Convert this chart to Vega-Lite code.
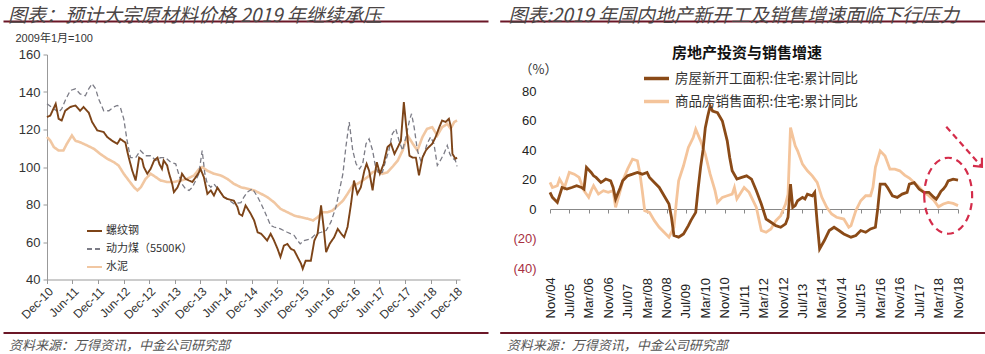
{
"$schema": "https://vega.github.io/schema/vega-lite/v6.json",
"background": "#ffffff",
"padding": {"left": 2, "top": 6, "right": 0, "bottom": 0},
"spacing": -33,
"resolve": {"scale": {"x": "independent", "y": "independent", "color": "independent", "strokeDash": "independent"}, "axis": {"x": "independent", "y": "independent"}, "legend": {"color": "independent", "strokeDash": "independent"}},
"datasets": {
"materials": [
{"series":"螺纹钢","date":"2010-12-01","value":126.6},{"series":"螺纹钢","date":"2010-12-25","value":127.5},{"series":"螺纹钢","date":"2011-02-01","value":133.7},{"series":"螺纹钢","date":"2011-02-22","value":125.7},{"series":"螺纹钢","date":"2011-03-16","value":124.8},{"series":"螺纹钢","date":"2011-04-10","value":130},{"series":"螺纹钢","date":"2011-05-16","value":132},{"series":"螺纹钢","date":"2011-06-22","value":132.8},{"series":"螺纹钢","date":"2011-07-25","value":130},{"series":"螺纹钢","date":"2011-08-19","value":132},{"series":"螺纹钢","date":"2011-09-25","value":129},{"series":"螺纹钢","date":"2011-10-19","value":124},{"series":"螺纹钢","date":"2011-11-25","value":119.5},{"series":"螺纹钢","date":"2012-01-10","value":118.6},{"series":"螺纹钢","date":"2012-02-04","value":116},{"series":"螺纹钢","date":"2012-03-10","value":114},{"series":"螺纹钢","date":"2012-04-16","value":112.4},{"series":"螺纹钢","date":"2012-05-07","value":115},{"series":"螺纹钢","date":"2012-06-13","value":113},{"series":"螺纹钢","date":"2012-06-25","value":108.8},{"series":"螺纹钢","date":"2012-07-07","value":105},{"series":"螺纹钢","date":"2012-08-01","value":98},{"series":"螺纹钢","date":"2012-08-25","value":92.8},{"series":"螺纹钢","date":"2012-09-19","value":105},{"series":"螺纹钢","date":"2012-10-10","value":104},{"series":"螺纹钢","date":"2012-10-22","value":100},{"series":"螺纹钢","date":"2012-11-16","value":96.4},{"series":"螺纹钢","date":"2012-12-10","value":99},{"series":"螺纹钢","date":"2013-01-04","value":103.5},{"series":"螺纹钢","date":"2013-01-28","value":105},{"series":"螺纹钢","date":"2013-02-10","value":101.7},{"series":"螺纹钢","date":"2013-03-01","value":99},{"series":"螺纹钢","date":"2013-03-13","value":103.5},{"series":"螺纹钢","date":"2013-04-07","value":100.8},{"series":"螺纹钢","date":"2013-04-19","value":97},{"series":"螺纹钢","date":"2013-05-13","value":91},{"series":"螺纹钢","date":"2013-05-25","value":86.6},{"series":"螺纹钢","date":"2013-06-19","value":89},{"series":"螺纹钢","date":"2013-07-10","value":92.8},{"series":"螺纹钢","date":"2013-07-22","value":96.4},{"series":"螺纹钢","date":"2013-08-16","value":93.7},{"series":"螺纹钢","date":"2013-09-10","value":92.8},{"series":"螺纹钢","date":"2013-10-04","value":92},{"series":"螺纹钢","date":"2013-10-28","value":94.6},{"series":"螺纹钢","date":"2013-11-19","value":97},{"series":"螺纹钢","date":"2013-12-01","value":99},{"series":"螺纹钢","date":"2013-12-25","value":94.6},{"series":"螺纹钢","date":"2014-01-19","value":85.7},{"series":"螺纹钢","date":"2014-02-13","value":87.5},{"series":"螺纹钢","date":"2014-03-07","value":84.8},{"series":"螺纹钢","date":"2014-04-01","value":89},{"series":"螺纹钢","date":"2014-04-22","value":86.6},{"series":"螺纹钢","date":"2014-05-16","value":84},{"series":"螺纹钢","date":"2014-06-10","value":83},{"series":"螺纹钢","date":"2014-07-04","value":82.5},{"series":"螺纹钢","date":"2014-07-28","value":82},{"series":"螺纹钢","date":"2014-08-22","value":78.6},{"series":"螺纹钢","date":"2014-09-04","value":75},{"series":"螺纹钢","date":"2014-09-25","value":74},{"series":"螺纹钢","date":"2014-10-19","value":79.5},{"series":"螺纹钢","date":"2014-11-25","value":75},{"series":"螺纹钢","date":"2014-12-19","value":71.5},{"series":"螺纹钢","date":"2015-01-13","value":65.2},{"series":"螺纹钢","date":"2015-02-07","value":64.4},{"series":"螺纹钢","date":"2015-03-01","value":62.6},{"series":"螺纹钢","date":"2015-03-22","value":60.8},{"series":"螺纹钢","date":"2015-04-16","value":64.4},{"series":"螺纹钢","date":"2015-05-10","value":60.8},{"series":"螺纹钢","date":"2015-06-04","value":56.4},{"series":"螺纹钢","date":"2015-06-25","value":52},{"series":"螺纹钢","date":"2015-07-19","value":58},{"series":"螺纹钢","date":"2015-08-13","value":59},{"series":"螺纹钢","date":"2015-09-07","value":56.4},{"series":"螺纹钢","date":"2015-10-01","value":55.5},{"series":"螺纹钢","date":"2015-10-25","value":52},{"series":"螺纹钢","date":"2015-11-19","value":48.4},{"series":"螺纹钢","date":"2015-12-01","value":45.7},{"series":"螺纹钢","date":"2015-12-22","value":50},{"series":"螺纹钢","date":"2016-01-28","value":50},{"series":"螺纹钢","date":"2016-02-22","value":60.8},{"series":"螺纹钢","date":"2016-03-16","value":64.4},{"series":"螺纹钢","date":"2016-04-10","value":79.5},{"series":"螺纹钢","date":"2016-04-28","value":68},{"series":"螺纹钢","date":"2016-05-16","value":54.6},{"series":"螺纹钢","date":"2016-06-10","value":59},{"series":"螺纹钢","date":"2016-07-13","value":62.6},{"series":"螺纹钢","date":"2016-08-07","value":67},{"series":"螺纹钢","date":"2016-09-01","value":64.4},{"series":"螺纹钢","date":"2016-09-22","value":62.6},{"series":"螺纹钢","date":"2016-10-16","value":68},{"series":"螺纹钢","date":"2016-11-10","value":80.4},{"series":"螺纹钢","date":"2016-12-01","value":92.8},{"series":"螺纹钢","date":"2016-12-25","value":85.7},{"series":"螺纹钢","date":"2017-01-19","value":89.2},{"series":"螺纹钢","date":"2017-02-13","value":98},{"series":"螺纹钢","date":"2017-03-01","value":101.7},{"series":"螺纹钢","date":"2017-03-19","value":98},{"series":"螺纹钢","date":"2017-04-13","value":87.5},{"series":"螺纹钢","date":"2017-04-22","value":92.8},{"series":"螺纹钢","date":"2017-05-13","value":102.6},{"series":"螺纹钢","date":"2017-06-04","value":96.4},{"series":"螺纹钢","date":"2017-07-01","value":101.7},{"series":"螺纹钢","date":"2017-07-28","value":110.6},{"series":"螺纹钢","date":"2017-08-22","value":112.4},{"series":"螺纹钢","date":"2017-09-16","value":107},{"series":"螺纹钢","date":"2017-10-10","value":110.6},{"series":"螺纹钢","date":"2017-11-01","value":114},{"series":"螺纹钢","date":"2017-11-22","value":134.6},{"series":"螺纹钢","date":"2017-12-07","value":123},{"series":"螺纹钢","date":"2018-01-01","value":106},{"series":"螺纹钢","date":"2018-01-25","value":105},{"series":"螺纹钢","date":"2018-02-16","value":105},{"series":"螺纹钢","date":"2018-03-10","value":95.5},{"series":"螺纹钢","date":"2018-04-04","value":105},{"series":"螺纹钢","date":"2018-04-28","value":108.8},{"series":"螺纹钢","date":"2018-05-19","value":110.6},{"series":"螺纹钢","date":"2018-06-13","value":112.4},{"series":"螺纹钢","date":"2018-07-07","value":116},{"series":"螺纹钢","date":"2018-08-01","value":121},{"series":"螺纹钢","date":"2018-08-22","value":124.8},{"series":"螺纹钢","date":"2018-09-16","value":124},{"series":"螺纹钢","date":"2018-10-10","value":125.7},{"series":"螺纹钢","date":"2018-10-25","value":121},{"series":"螺纹钢","date":"2018-11-04","value":107},{"series":"螺纹钢","date":"2018-11-25","value":104.4},{"series":"螺纹钢","date":"2018-12-07","value":105},
{"series":"动力煤（5500K）","date":"2010-12-01","value":133.7},{"series":"动力煤（5500K）","date":"2011-01-19","value":131},{"series":"动力煤（5500K）","date":"2011-02-22","value":129.2},{"series":"动力煤（5500K）","date":"2011-03-16","value":131},{"series":"动力煤（5500K）","date":"2011-04-10","value":135.5},{"series":"动力煤（5500K）","date":"2011-05-16","value":140.8},{"series":"动力煤（5500K）","date":"2011-06-22","value":141.7},{"series":"动力煤（5500K）","date":"2011-07-25","value":139},{"series":"动力煤（5500K）","date":"2011-09-01","value":138},{"series":"动力煤（5500K）","date":"2011-09-25","value":141.7},{"series":"动力煤（5500K）","date":"2011-10-19","value":144.4},{"series":"动力煤（5500K）","date":"2011-11-13","value":141.7},{"series":"动力煤（5500K）","date":"2011-12-04","value":136.4},{"series":"动力煤（5500K）","date":"2012-01-10","value":130},{"series":"动力煤（5500K）","date":"2012-02-16","value":130},{"series":"动力煤（5500K）","date":"2012-03-22","value":132},{"series":"动力煤（5500K）","date":"2012-04-16","value":132.8},{"series":"动力煤（5500K）","date":"2012-05-07","value":132},{"series":"动力煤（5500K）","date":"2012-06-01","value":125.7},{"series":"动力煤（5500K）","date":"2012-06-25","value":114},{"series":"动力煤（5500K）","date":"2012-07-19","value":105},{"series":"动力煤（5500K）","date":"2012-08-25","value":105},{"series":"动力煤（5500K）","date":"2012-09-28","value":108.8},{"series":"动力煤（5500K）","date":"2012-11-04","value":106},{"series":"动力煤（5500K）","date":"2012-12-10","value":106},{"series":"动力煤（5500K）","date":"2013-01-16","value":103.5},{"series":"动力煤（5500K）","date":"2013-02-19","value":105},{"series":"动力煤（5500K）","date":"2013-03-25","value":105},{"series":"动力煤（5500K）","date":"2013-05-01","value":102.6},{"series":"动力煤（5500K）","date":"2013-06-07","value":101.7},{"series":"动力煤（5500K）","date":"2013-07-01","value":95.5},{"series":"动力煤（5500K）","date":"2013-07-22","value":91},{"series":"动力煤（5500K）","date":"2013-08-16","value":88.4},{"series":"动力煤（5500K）","date":"2013-09-10","value":87.5},{"series":"动力煤（5500K）","date":"2013-10-04","value":89.2},{"series":"动力煤（5500K）","date":"2013-10-28","value":92.8},{"series":"动力煤（5500K）","date":"2013-11-19","value":96.4},{"series":"动力煤（5500K）","date":"2013-12-13","value":108.8},{"series":"动力煤（5500K）","date":"2014-01-01","value":96.4},{"series":"动力煤（5500K）","date":"2014-01-19","value":91},{"series":"动力煤（5500K）","date":"2014-02-13","value":89.2},{"series":"动力煤（5500K）","date":"2014-03-07","value":91},{"series":"动力煤（5500K）","date":"2014-04-13","value":87.5},{"series":"动力煤（5500K）","date":"2014-05-16","value":84},{"series":"动力煤（5500K）","date":"2014-06-10","value":83},{"series":"动力煤（5500K）","date":"2014-07-28","value":80.4},{"series":"动力煤（5500K）","date":"2014-09-16","value":81},{"series":"动力煤（5500K）","date":"2014-10-07","value":84},{"series":"动力煤（5500K）","date":"2014-11-01","value":86.6},{"series":"动力煤（5500K）","date":"2014-12-07","value":88.4},{"series":"动力煤（5500K）","date":"2015-01-13","value":84},{"series":"动力煤（5500K）","date":"2015-02-07","value":80.4},{"series":"动力煤（5500K）","date":"2015-03-01","value":76.8},{"series":"动力煤（5500K）","date":"2015-03-22","value":73.2},{"series":"动力煤（5500K）","date":"2015-04-16","value":68.8},{"series":"动力煤（5500K）","date":"2015-05-10","value":68},{"series":"动力煤（5500K）","date":"2015-06-25","value":67},{"series":"动力煤（5500K）","date":"2015-08-13","value":65.2},{"series":"动力煤（5500K）","date":"2015-10-01","value":63.5},{"series":"动力煤（5500K）","date":"2015-10-25","value":60.8},{"series":"动力煤（5500K）","date":"2015-11-13","value":59},{"series":"动力煤（5500K）","date":"2015-12-10","value":60.8},{"series":"动力煤（5500K）","date":"2016-01-28","value":61.7},{"series":"动力煤（5500K）","date":"2016-03-04","value":64.4},{"series":"动力煤（5500K）","date":"2016-04-10","value":65.2},{"series":"动力煤（5500K）","date":"2016-05-16","value":66.1},{"series":"动力煤（5500K）","date":"2016-06-19","value":70.6},{"series":"动力煤（5500K）","date":"2016-07-25","value":78.6},{"series":"动力煤（5500K）","date":"2016-08-19","value":87.5},{"series":"动力煤（5500K）","date":"2016-09-13","value":96.4},{"series":"动力煤（5500K）","date":"2016-10-04","value":110.6},{"series":"动力煤（5500K）","date":"2016-10-28","value":124},{"series":"动力煤（5500K）","date":"2016-11-22","value":108.8},{"series":"动力煤（5500K）","date":"2016-12-16","value":101.7},{"series":"动力煤（5500K）","date":"2017-01-10","value":99},{"series":"动力煤（5500K）","date":"2017-02-01","value":101.7},{"series":"动力煤（5500K）","date":"2017-02-25","value":112.4},{"series":"动力煤（5500K）","date":"2017-03-19","value":115},{"series":"动力煤（5500K）","date":"2017-04-13","value":108.8},{"series":"动力煤（5500K）","date":"2017-05-04","value":100},{"series":"动力煤（5500K）","date":"2017-05-28","value":96.4},{"series":"动力煤（5500K）","date":"2017-06-22","value":97.2},{"series":"动力煤（5500K）","date":"2017-07-16","value":103.5},{"series":"动力煤（5500K）","date":"2017-08-07","value":108.8},{"series":"动力煤（5500K）","date":"2017-09-01","value":117.7},{"series":"动力煤（5500K）","date":"2017-09-25","value":120.4},{"series":"动力煤（5500K）","date":"2017-10-19","value":114},{"series":"动力煤（5500K）","date":"2017-11-13","value":108.8},{"series":"动力煤（5500K）","date":"2017-12-07","value":116},{"series":"动力煤（5500K）","date":"2018-01-01","value":124.8},{"series":"动力煤（5500K）","date":"2018-01-16","value":128.4},{"series":"动力煤（5500K）","date":"2018-02-04","value":121},{"series":"动力煤（5500K）","date":"2018-02-27","value":108.8},{"series":"动力煤（5500K）","date":"2018-03-22","value":103.5},{"series":"动力煤（5500K）","date":"2018-04-16","value":107},{"series":"动力煤（5500K）","date":"2018-05-07","value":112.4},{"series":"动力煤（5500K）","date":"2018-06-01","value":116},{"series":"动力煤（5500K）","date":"2018-06-25","value":112.4},{"series":"动力煤（5500K）","date":"2018-07-19","value":100.8},{"series":"动力煤（5500K）","date":"2018-08-10","value":103.5},{"series":"动力煤（5500K）","date":"2018-09-04","value":107},{"series":"动力煤（5500K）","date":"2018-09-28","value":111.5},{"series":"动力煤（5500K）","date":"2018-10-16","value":107},{"series":"动力煤（5500K）","date":"2018-11-01","value":105},{"series":"动力煤（5500K）","date":"2018-11-25","value":103.5},{"series":"动力煤（5500K）","date":"2018-12-07","value":100.3},
{"series":"水泥","date":"2010-12-01","value":116},{"series":"水泥","date":"2010-12-25","value":114},{"series":"水泥","date":"2011-01-19","value":110.6},{"series":"水泥","date":"2011-02-22","value":108.8},{"series":"水泥","date":"2011-03-28","value":108.8},{"series":"水泥","date":"2011-04-22","value":112.4},{"series":"水泥","date":"2011-05-28","value":116.8},{"series":"水泥","date":"2011-06-22","value":114},{"series":"水泥","date":"2011-07-25","value":113.2},{"series":"水泥","date":"2011-09-13","value":111.5},{"series":"水泥","date":"2011-11-01","value":109.7},{"series":"水泥","date":"2011-12-16","value":107},{"series":"水泥","date":"2012-02-04","value":104.4},{"series":"水泥","date":"2012-03-22","value":102.6},{"series":"水泥","date":"2012-04-25","value":100.8},{"series":"水泥","date":"2012-06-01","value":96.4},{"series":"水泥","date":"2012-07-07","value":92.8},{"series":"水泥","date":"2012-08-13","value":89.2},{"series":"水泥","date":"2012-09-07","value":87.5},{"series":"水泥","date":"2012-10-01","value":89.2},{"series":"水泥","date":"2012-11-04","value":93.7},{"series":"水泥","date":"2012-12-10","value":96.4},{"series":"水泥","date":"2013-01-16","value":94.6},{"series":"水泥","date":"2013-02-19","value":92.8},{"series":"水泥","date":"2013-04-07","value":92},{"series":"水泥","date":"2013-05-25","value":92},{"series":"水泥","date":"2013-07-10","value":92.8},{"series":"水泥","date":"2013-08-28","value":93.7},{"series":"水泥","date":"2013-10-16","value":95.5},{"series":"水泥","date":"2013-11-22","value":99},{"series":"水泥","date":"2013-12-13","value":100},{"series":"水泥","date":"2014-01-19","value":98},{"series":"水泥","date":"2014-03-07","value":96.4},{"series":"水泥","date":"2014-04-25","value":95.5},{"series":"水泥","date":"2014-06-10","value":93.7},{"series":"水泥","date":"2014-07-28","value":91},{"series":"水泥","date":"2014-09-16","value":89.2},{"series":"水泥","date":"2014-11-01","value":88.4},{"series":"水泥","date":"2014-12-19","value":87.5},{"series":"水泥","date":"2015-02-07","value":85.7},{"series":"水泥","date":"2015-03-22","value":84},{"series":"水泥","date":"2015-05-10","value":81.2},{"series":"水泥","date":"2015-06-25","value":77.7},{"series":"水泥","date":"2015-08-13","value":75.9},{"series":"水泥","date":"2015-10-01","value":74.1},{"series":"水泥","date":"2015-11-19","value":73.2},{"series":"水泥","date":"2016-01-07","value":72.4},{"series":"水泥","date":"2016-02-13","value":71.5},{"series":"水泥","date":"2016-03-16","value":73.2},{"series":"水泥","date":"2016-04-22","value":75.9},{"series":"水泥","date":"2016-05-28","value":75.9},{"series":"水泥","date":"2016-07-01","value":76.8},{"series":"水泥","date":"2016-08-07","value":79.5},{"series":"水泥","date":"2016-09-13","value":82},{"series":"水泥","date":"2016-10-16","value":85.7},{"series":"水泥","date":"2016-11-22","value":90.1},{"series":"水泥","date":"2016-12-25","value":91},{"series":"水泥","date":"2017-02-01","value":92.8},{"series":"水泥","date":"2017-03-07","value":94.6},{"series":"水泥","date":"2017-04-13","value":97.2},{"series":"水泥","date":"2017-05-16","value":98},{"series":"水泥","date":"2017-06-22","value":96.4},{"series":"水泥","date":"2017-07-28","value":97.2},{"series":"水泥","date":"2017-09-01","value":100},{"series":"水泥","date":"2017-10-10","value":103.5},{"series":"水泥","date":"2017-11-13","value":108.8},{"series":"水泥","date":"2017-12-19","value":116.8},{"series":"水泥","date":"2018-01-25","value":112.4},{"series":"水泥","date":"2018-02-27","value":108.8},{"series":"水泥","date":"2018-04-04","value":116},{"series":"水泥","date":"2018-05-07","value":120.4},{"series":"水泥","date":"2018-06-13","value":121.2},{"series":"水泥","date":"2018-07-19","value":116.8},{"series":"水泥","date":"2018-08-22","value":121.2},{"series":"水泥","date":"2018-09-28","value":123},{"series":"水泥","date":"2018-10-22","value":120.4},{"series":"水泥","date":"2018-11-16","value":123.9},{"series":"水泥","date":"2018-12-07","value":124.8}
],
"property": [
{"series":"房屋新开工面积:住宅:累计同比","date":"2004-11-01","value":11.3},{"series":"房屋新开工面积:住宅:累计同比","date":"2004-12-01","value":7.9},{"series":"房屋新开工面积:住宅:累计同比","date":"2005-02-01","value":4.5},{"series":"房屋新开工面积:住宅:累计同比","date":"2005-04-01","value":14.6},{"series":"房屋新开工面积:住宅:累计同比","date":"2005-06-01","value":13.5},{"series":"房屋新开工面积:住宅:累计同比","date":"2005-08-01","value":14.6},{"series":"房屋新开工面积:住宅:累计同比","date":"2005-10-01","value":15.8},{"series":"房屋新开工面积:住宅:累计同比","date":"2005-12-01","value":14.6},{"series":"房屋新开工面积:住宅:累计同比","date":"2006-01-01","value":13.5},{"series":"房屋新开工面积:住宅:累计同比","date":"2006-02-01","value":28.2},{"series":"房屋新开工面积:住宅:累计同比","date":"2006-04-01","value":24.8},{"series":"房屋新开工面积:住宅:累计同比","date":"2006-05-01","value":22.5},{"series":"房屋新开工面积:住宅:累计同比","date":"2006-06-01","value":21.4},{"series":"房屋新开工面积:住宅:累计同比","date":"2006-08-01","value":18},{"series":"房屋新开工面积:住宅:累计同比","date":"2006-09-01","value":19.1},{"series":"房屋新开工面积:住宅:累计同比","date":"2006-10-01","value":20.3},{"series":"房屋新开工面积:住宅:累计同比","date":"2006-12-01","value":19.1},{"series":"房屋新开工面积:住宅:累计同比","date":"2007-01-01","value":14.6},{"series":"房屋新开工面积:住宅:累计同比","date":"2007-02-01","value":6.8},{"series":"房屋新开工面积:住宅:累计同比","date":"2007-04-01","value":14.6},{"series":"房屋新开工面积:住宅:累计同比","date":"2007-05-01","value":19.1},{"series":"房屋新开工面积:住宅:累计同比","date":"2007-07-01","value":22.5},{"series":"房屋新开工面积:住宅:累计同比","date":"2007-09-01","value":23.6},{"series":"房屋新开工面积:住宅:累计同比","date":"2007-11-01","value":24.8},{"series":"房屋新开工面积:住宅:累计同比","date":"2008-01-01","value":23.6},{"series":"房屋新开工面积:住宅:累计同比","date":"2008-03-01","value":24.8},{"series":"房屋新开工面积:住宅:累计同比","date":"2008-04-01","value":21.4},{"series":"房屋新开工面积:住宅:累计同比","date":"2008-06-01","value":18},{"series":"房屋新开工面积:住宅:累计同比","date":"2008-08-01","value":14.6},{"series":"房屋新开工面积:住宅:累计同比","date":"2008-10-01","value":9},{"series":"房屋新开工面积:住宅:累计同比","date":"2008-12-01","value":3.4},{"series":"房屋新开工面积:住宅:累计同比","date":"2009-01-01","value":-5.6},{"series":"房屋新开工面积:住宅:累计同比","date":"2009-02-01","value":-18},{"series":"房屋新开工面积:住宅:累计同比","date":"2009-04-01","value":-19.1},{"series":"房屋新开工面积:住宅:累计同比","date":"2009-06-01","value":-16.9},{"series":"房屋新开工面积:住宅:累计同比","date":"2009-08-01","value":-11.3},{"series":"房屋新开工面积:住宅:累计同比","date":"2009-09-01","value":-7.9},{"series":"房屋新开工面积:住宅:累计同比","date":"2009-11-01","value":-2.3},{"series":"房屋新开工面积:住宅:累计同比","date":"2009-12-01","value":13.5},{"series":"房屋新开工面积:住宅:累计同比","date":"2010-01-01","value":28.2},{"series":"房屋新开工面积:住宅:累计同比","date":"2010-02-01","value":40},{"series":"房屋新开工面积:住宅:累计同比","date":"2010-03-01","value":55},{"series":"房屋新开工面积:住宅:累计同比","date":"2010-04-01","value":63},{"series":"房屋新开工面积:住宅:累计同比","date":"2010-05-01","value":69.8},{"series":"房屋新开工面积:住宅:累计同比","date":"2010-06-01","value":66.4},{"series":"房屋新开工面积:住宅:累计同比","date":"2010-08-01","value":65.3},{"series":"房屋新开工面积:住宅:累计同比","date":"2010-10-01","value":59.7},{"series":"房屋新开工面积:住宅:累计同比","date":"2010-12-01","value":46.2},{"series":"房屋新开工面积:住宅:累计同比","date":"2011-01-01","value":34.9},{"series":"房屋新开工面积:住宅:累计同比","date":"2011-02-01","value":25.9},{"series":"房屋新开工面积:住宅:累计同比","date":"2011-04-01","value":20.3},{"series":"房屋新开工面积:住宅:累计同比","date":"2011-06-01","value":21.4},{"series":"房屋新开工面积:住宅:累计同比","date":"2011-08-01","value":22.5},{"series":"房屋新开工面积:住宅:累计同比","date":"2011-10-01","value":20.3},{"series":"房屋新开工面积:住宅:累计同比","date":"2011-12-01","value":12.4},{"series":"房屋新开工面积:住宅:累计同比","date":"2012-02-01","value":3.4},{"series":"房屋新开工面积:住宅:累计同比","date":"2012-04-01","value":-6.8},{"series":"房屋新开工面积:住宅:累计同比","date":"2012-06-01","value":-9},{"series":"房屋新开工面积:住宅:累计同比","date":"2012-08-01","value":-11.3},{"series":"房屋新开工面积:住宅:累计同比","date":"2012-10-01","value":-12.4},{"series":"房屋新开工面积:住宅:累计同比","date":"2012-12-01","value":-10.1},{"series":"房屋新开工面积:住宅:累计同比","date":"2013-01-01","value":-5.6},{"series":"房屋新开工面积:住宅:累计同比","date":"2013-02-01","value":16.9},{"series":"房屋新开工面积:住宅:累计同比","date":"2013-03-01","value":1.1},{"series":"房屋新开工面积:住宅:累计同比","date":"2013-04-01","value":2.3},{"series":"房屋新开工面积:住宅:累计同比","date":"2013-05-01","value":5.6},{"series":"房屋新开工面积:住宅:累计同比","date":"2013-07-01","value":7.9},{"series":"房屋新开工面积:住宅:累计同比","date":"2013-08-01","value":6.8},{"series":"房屋新开工面积:住宅:累计同比","date":"2013-09-01","value":10.1},{"series":"房屋新开工面积:住宅:累计同比","date":"2013-11-01","value":9},{"series":"房屋新开工面积:住宅:累计同比","date":"2013-12-01","value":11.3},{"series":"房屋新开工面积:住宅:累计同比","date":"2014-01-01","value":-9},{"series":"房屋新开工面积:住宅:累计同比","date":"2014-02-01","value":-27},{"series":"房屋新开工面积:住宅:累计同比","date":"2014-04-01","value":-21.4},{"series":"房屋新开工面积:住宅:累计同比","date":"2014-06-01","value":-14.6},{"series":"房屋新开工面积:住宅:累计同比","date":"2014-08-01","value":-12.4},{"series":"房屋新开工面积:住宅:累计同比","date":"2014-10-01","value":-14.6},{"series":"房屋新开工面积:住宅:累计同比","date":"2014-12-01","value":-16.9},{"series":"房屋新开工面积:住宅:累计同比","date":"2015-03-01","value":-19.1},{"series":"房屋新开工面积:住宅:累计同比","date":"2015-05-01","value":-18},{"series":"房屋新开工面积:住宅:累计同比","date":"2015-07-01","value":-14.6},{"series":"房屋新开工面积:住宅:累计同比","date":"2015-09-01","value":-15.8},{"series":"房屋新开工面积:住宅:累计同比","date":"2015-11-01","value":-13.5},{"series":"房屋新开工面积:住宅:累计同比","date":"2016-01-01","value":-12.4},{"series":"房屋新开工面积:住宅:累计同比","date":"2016-02-01","value":1.1},{"series":"房屋新开工面积:住宅:累计同比","date":"2016-03-01","value":16.9},{"series":"房屋新开工面积:住宅:累计同比","date":"2016-05-01","value":16.9},{"series":"房屋新开工面积:住宅:累计同比","date":"2016-06-01","value":14.6},{"series":"房屋新开工面积:住宅:累计同比","date":"2016-08-01","value":9},{"series":"房屋新开工面积:住宅:累计同比","date":"2016-10-01","value":7.9},{"series":"房屋新开工面积:住宅:累计同比","date":"2016-12-01","value":10.1},{"series":"房屋新开工面积:住宅:累计同比","date":"2017-02-01","value":11.3},{"series":"房屋新开工面积:住宅:累计同比","date":"2017-03-01","value":16.9},{"series":"房屋新开工面积:住宅:累计同比","date":"2017-05-01","value":17.9},{"series":"房屋新开工面积:住宅:累计同比","date":"2017-07-01","value":13.5},{"series":"房屋新开工面积:住宅:累计同比","date":"2017-09-01","value":11.3},{"series":"房屋新开工面积:住宅:累计同比","date":"2017-11-01","value":11.3},{"series":"房屋新开工面积:住宅:累计同比","date":"2018-01-01","value":8},{"series":"房屋新开工面积:住宅:累计同比","date":"2018-02-01","value":6.7},{"series":"房屋新开工面积:住宅:累计同比","date":"2018-03-01","value":9},{"series":"房屋新开工面积:住宅:累计同比","date":"2018-04-01","value":12},{"series":"房屋新开工面积:住宅:累计同比","date":"2018-05-01","value":13.5},{"series":"房屋新开工面积:住宅:累计同比","date":"2018-06-01","value":15.7},{"series":"房屋新开工面积:住宅:累计同比","date":"2018-07-01","value":19.1},{"series":"房屋新开工面积:住宅:累计同比","date":"2018-09-01","value":20.2},{"series":"房屋新开工面积:住宅:累计同比","date":"2018-11-01","value":19.6},
{"series":"商品房销售面积:住宅:累计同比","date":"2004-11-01","value":18},{"series":"商品房销售面积:住宅:累计同比","date":"2004-12-01","value":14.6},{"series":"商品房销售面积:住宅:累计同比","date":"2005-02-01","value":15.8},{"series":"商品房销售面积:住宅:累计同比","date":"2005-03-01","value":20.3},{"series":"商品房销售面积:住宅:累计同比","date":"2005-05-01","value":14.6},{"series":"商品房销售面积:住宅:累计同比","date":"2005-07-01","value":24.8},{"series":"商品房销售面积:住宅:累计同比","date":"2005-09-01","value":23.6},{"series":"商品房销售面积:住宅:累计同比","date":"2005-11-01","value":21.4},{"series":"商品房销售面积:住宅:累计同比","date":"2006-01-01","value":12.4},{"series":"商品房销售面积:住宅:累计同比","date":"2006-03-01","value":7.9},{"series":"商品房销售面积:住宅:累计同比","date":"2006-04-01","value":12.4},{"series":"商品房销售面积:住宅:累计同比","date":"2006-05-01","value":15.8},{"series":"商品房销售面积:住宅:累计同比","date":"2006-07-01","value":10.1},{"series":"商品房销售面积:住宅:累计同比","date":"2006-09-01","value":12.4},{"series":"商品房销售面积:住宅:累计同比","date":"2006-11-01","value":11.3},{"series":"商品房销售面积:住宅:累计同比","date":"2007-01-01","value":12.4},{"series":"商品房销售面积:住宅:累计同比","date":"2007-02-01","value":1.1},{"series":"商品房销售面积:住宅:累计同比","date":"2007-04-01","value":12.4},{"series":"商品房销售面积:住宅:累计同比","date":"2007-05-01","value":19.1},{"series":"商品房销售面积:住宅:累计同比","date":"2007-07-01","value":27},{"series":"商品房销售面积:住宅:累计同比","date":"2007-09-01","value":33.8},{"series":"商品房销售面积:住宅:累计同比","date":"2007-11-01","value":32.7},{"series":"商品房销售面积:住宅:累计同比","date":"2007-12-01","value":24.8},{"series":"商品房销售面积:住宅:累计同比","date":"2008-01-01","value":12.4},{"series":"商品房销售面积:住宅:累计同比","date":"2008-02-01","value":-1.1},{"series":"商品房销售面积:住宅:累计同比","date":"2008-04-01","value":-2.3},{"series":"商品房销售面积:住宅:累计同比","date":"2008-06-01","value":-7.9},{"series":"商品房销售面积:住宅:累计同比","date":"2008-08-01","value":-12.4},{"series":"商品房销售面积:住宅:累计同比","date":"2008-10-01","value":-15.8},{"series":"商品房销售面积:住宅:累计同比","date":"2008-12-01","value":-19.1},{"series":"商品房销售面积:住宅:累计同比","date":"2009-02-01","value":-12.4},{"series":"商品房销售面积:住宅:累计同比","date":"2009-03-01","value":3.4},{"series":"商品房销售面积:住宅:累计同比","date":"2009-04-01","value":19.1},{"series":"商品房销售面积:住宅:累计同比","date":"2009-06-01","value":29.3},{"series":"商品房销售面积:住宅:累计同比","date":"2009-08-01","value":41.7},{"series":"商品房销售面积:住宅:累计同比","date":"2009-10-01","value":48.4},{"series":"商品房销售面积:住宅:累计同比","date":"2009-11-01","value":54.1},{"series":"商品房销售面积:住宅:累计同比","date":"2010-01-01","value":46.2},{"series":"商品房销售面积:住宅:累计同比","date":"2010-03-01","value":37.2},{"series":"商品房销售面积:住宅:累计同比","date":"2010-05-01","value":23.6},{"series":"商品房销售面积:住宅:累计同比","date":"2010-07-01","value":12.4},{"series":"商品房销售面积:住宅:累计同比","date":"2010-08-01","value":4.5},{"series":"商品房销售面积:住宅:累计同比","date":"2010-10-01","value":7.9},{"series":"商品房销售面积:住宅:累计同比","date":"2010-12-01","value":9},{"series":"商品房销售面积:住宅:累计同比","date":"2011-02-01","value":10.1},{"series":"商品房销售面积:住宅:累计同比","date":"2011-03-01","value":14.6},{"series":"商品房销售面积:住宅:累计同比","date":"2011-04-01","value":6.8},{"series":"商品房销售面积:住宅:累计同比","date":"2011-06-01","value":12},{"series":"商品房销售面积:住宅:累计同比","date":"2011-07-01","value":14.6},{"series":"商品房销售面积:住宅:累计同比","date":"2011-09-01","value":11.3},{"series":"商品房销售面积:住宅:累计同比","date":"2011-12-01","value":1.1},{"series":"商品房销售面积:住宅:累计同比","date":"2012-02-01","value":-14.6},{"series":"商品房销售面积:住宅:累计同比","date":"2012-04-01","value":-15.8},{"series":"商品房销售面积:住宅:累计同比","date":"2012-06-01","value":-13.5},{"series":"商品房销售面积:住宅:累计同比","date":"2012-08-01","value":-7.9},{"series":"商品房销售面积:住宅:累计同比","date":"2012-10-01","value":-4.5},{"series":"商品房销售面积:住宅:累计同比","date":"2012-12-01","value":3.4},{"series":"商品房销售面积:住宅:累计同比","date":"2013-01-01","value":10},{"series":"商品房销售面积:住宅:累计同比","date":"2013-02-01","value":55.2},{"series":"商品房销售面积:住宅:累计同比","date":"2013-04-01","value":42.8},{"series":"商品房销售面积:住宅:累计同比","date":"2013-05-01","value":39.4},{"series":"商品房销售面积:住宅:累计同比","date":"2013-07-01","value":30.4},{"series":"商品房销售面积:住宅:累计同比","date":"2013-09-01","value":25.9},{"series":"商品房销售面积:住宅:累计同比","date":"2013-11-01","value":22.5},{"series":"商品房销售面积:住宅:累计同比","date":"2014-01-01","value":18},{"series":"商品房销售面积:住宅:累计同比","date":"2014-03-01","value":7.9},{"series":"商品房销售面积:住宅:累计同比","date":"2014-05-01","value":1.1},{"series":"商品房销售面积:住宅:累计同比","date":"2014-07-01","value":-3.4},{"series":"商品房销售面积:住宅:累计同比","date":"2014-09-01","value":-5.6},{"series":"商品房销售面积:住宅:累计同比","date":"2014-12-01","value":-6.8},{"series":"商品房销售面积:住宅:累计同比","date":"2015-02-01","value":-12.4},{"series":"商品房销售面积:住宅:累计同比","date":"2015-03-01","value":-11.3},{"series":"商品房销售面积:住宅:累计同比","date":"2015-05-01","value":-1.1},{"series":"商品房销售面积:住宅:累计同比","date":"2015-07-01","value":5.6},{"series":"商品房销售面积:住宅:累计同比","date":"2015-09-01","value":9},{"series":"商品房销售面积:住宅:累计同比","date":"2015-11-01","value":9},{"series":"商品房销售面积:住宅:累计同比","date":"2015-12-01","value":14.6},{"series":"商品房销售面积:住宅:累计同比","date":"2016-01-01","value":28.2},{"series":"商品房销售面积:住宅:累计同比","date":"2016-03-01","value":39.4},{"series":"商品房销售面积:住宅:累计同比","date":"2016-05-01","value":36},{"series":"商品房销售面积:住宅:累计同比","date":"2016-07-01","value":27},{"series":"商品房销售面积:住宅:累计同比","date":"2016-09-01","value":27},{"series":"商品房销售面积:住宅:累计同比","date":"2016-11-01","value":25.9},{"series":"商品房销售面积:住宅:累计同比","date":"2017-01-01","value":23},{"series":"商品房销售面积:住宅:累计同比","date":"2017-03-01","value":21},{"series":"商品房销售面积:住宅:累计同比","date":"2017-05-01","value":18},{"series":"商品房销售面积:住宅:累计同比","date":"2017-07-01","value":15},{"series":"商品房销售面积:住宅:累计同比","date":"2017-09-01","value":11.3},{"series":"商品房销售面积:住宅:累计同比","date":"2017-11-01","value":9},{"series":"商品房销售面积:住宅:累计同比","date":"2018-01-01","value":6},{"series":"商品房销售面积:住宅:累计同比","date":"2018-03-01","value":1.5},{"series":"商品房销售面积:住宅:累计同比","date":"2018-05-01","value":3.4},{"series":"商品房销售面积:住宅:累计同比","date":"2018-07-01","value":4.5},{"series":"商品房销售面积:住宅:累计同比","date":"2018-09-01","value":3.8},{"series":"商品房销售面积:住宅:累计同比","date":"2018-11-01","value":2.3}
]
},
"hconcat": [
{
"resolve": {"scale": {"x": "independent", "y": "independent", "color": "independent", "strokeDash": "independent"}, "axis": {"x": "independent", "y": "independent"}, "legend": {"color": "independent", "strokeDash": "independent"}},
"spacing": 11.5,
"vconcat": [
{
"resolve": {"scale": {"x": "independent", "y": "independent", "color": "independent", "strokeDash": "independent"}, "axis": {"x": "independent", "y": "independent"}, "legend": {"color": "independent", "strokeDash": "independent"}},
"spacing": 6.5,
"vconcat": [
{
"width": 441, "height": 2,
"data": {"values": [{}]},
"mark": {"type": "point", "opacity": 0, "size": 1},
"encoding": {
"x": {"datum": 0, "type": "quantitative", "scale": {"domain": [0, 1], "range": [-44, 441]},
"axis": {"orient": "top", "domainColor": "#6b1727", "domainWidth": 2, "domainCap": "butt", "ticks": false, "labels": false, "title": null, "grid": false}}
},
"title": {"text": "图表：预计大宗原材料价格 2019 年继续承压", "frame": "group", "anchor": "start", "dx": -39, "offset": -4.5, "fontSize": 19, "fontStyle": "italic", "fontWeight": "normal", "font": "Noto Sans CJK SC", "color": "#4a4545"}
},
{
"width": 413, "height": 225,
"data": {"name": "materials"},
"encoding": {
"x": {"field": "date", "type": "temporal",
"scale": {"domain": [{"year": 2010, "month": 12, "date": 1}, {"year": 2018, "month": 12, "date": 28}]},
"axis": {"title": null, "grid": false, "format": "%b-%y", "labelAngle": -45, "labelOverlap": false, "labelFontSize": 12, "labelColor": "#333333", "tickSize": 4, "tickColor": "#999999", "domainColor": "#999999", "labelPadding": 2,
"values": [{"year":2010,"month":12,"date":1},{"year":2011,"month":6,"date":1},{"year":2011,"month":12,"date":1},{"year":2012,"month":6,"date":1},{"year":2012,"month":12,"date":1},{"year":2013,"month":6,"date":1},{"year":2013,"month":12,"date":1},{"year":2014,"month":6,"date":1},{"year":2014,"month":12,"date":1},{"year":2015,"month":6,"date":1},{"year":2015,"month":12,"date":1},{"year":2016,"month":6,"date":1},{"year":2016,"month":12,"date":1},{"year":2017,"month":6,"date":1},{"year":2017,"month":12,"date":1},{"year":2018,"month":6,"date":1},{"year":2018,"month":12,"date":1}]}},
"y": {"field": "value", "type": "quantitative",
"scale": {"domain": [40, 160], "nice": false, "zero": false},
"axis": {"values": [40, 60, 80, 100, 120, 140, 160], "labelOverlap": false, "grid": false, "title": "2009年1月=100", "titleAngle": 0, "titleX": -32, "titleY": -16, "titleAlign": "left", "titleBaseline": "middle", "titleFont": "Liberation Sans, Noto Sans CJK SC", "titleFontSize": 11, "titleFontWeight": "normal", "titleColor": "#333333", "labelFontSize": 13, "labelColor": "#333333", "tickSize": 4, "tickColor": "#999999", "domainColor": "#999999", "labelPadding": 3, "minExtent": 44}},
"color": {"field": "series", "type": "nominal",
"scale": {"domain": ["螺纹钢", "动力煤（5500K）", "水泥"], "range": ["#7d4418", "#7c7c86", "#f1c7a2"]},
"legend": {"orient": "none", "legendX": 39, "legendY": 168, "title": null, "symbolType": "stroke", "symbolSize": 225, "symbolStrokeWidth": 2, "labelFont": "Noto Sans CJK SC", "labelFontSize": 11, "labelColor": "#333333", "rowPadding": 4, "labelOffset": 3, "padding": 0}},
"strokeDash": {"field": "series", "type": "nominal",
"scale": {"domain": ["螺纹钢", "动力煤（5500K）", "水泥"], "range": [[1, 0], [5, 3], [1, 0]]},
"legend": {"orient": "none", "legendX": 39, "legendY": 168, "title": null, "symbolType": "stroke", "symbolSize": 225, "symbolStrokeWidth": 2, "labelFont": "Noto Sans CJK SC", "labelFontSize": 11, "labelColor": "#333333", "rowPadding": 4, "labelOffset": 3, "padding": 0}}
},
"layer": [
{"transform": [{"filter": "datum.series === '水泥'"}], "mark": {"type": "line", "strokeWidth": 2.6}},
{"transform": [{"filter": "datum.series === '动力煤（5500K）'"}], "mark": {"type": "line", "strokeWidth": 1.3}},
{"transform": [{"filter": "datum.series === '螺纹钢'"}], "mark": {"type": "line", "strokeWidth": 1.9}}
]
}
]
},
{
"width": 441, "height": 1,
"data": {"values": [{}]},
"mark": {"type": "point", "opacity": 0, "size": 1},
"encoding": {
"x": {"datum": 0, "type": "quantitative", "scale": {"domain": [0, 1], "range": [-44, 441]},
"axis": {"orient": "top", "domainColor": "#6b1727", "domainWidth": 2, "domainCap": "butt", "ticks": false, "labels": false, "title": null, "grid": false}}
},
"title": {"text": "资料来源：万得资讯，中金公司研究部", "orient": "bottom", "frame": "group", "anchor": "start", "dx": -38, "offset": 6.5, "fontSize": 13, "fontStyle": "italic", "fontWeight": "normal", "font": "Noto Sans CJK SC", "color": "#555555"}
}
]
},
{
"resolve": {"scale": {"x": "independent", "y": "independent", "color": "independent", "strokeDash": "independent"}, "axis": {"x": "independent", "y": "independent"}, "legend": {"color": "independent", "strokeDash": "independent"}},
"spacing": 14.5,
"vconcat": [
{
"resolve": {"scale": {"x": "independent", "y": "independent", "color": "independent", "strokeDash": "independent"}, "axis": {"x": "independent", "y": "independent"}, "legend": {"color": "independent", "strokeDash": "independent"}},
"spacing": 20,
"vconcat": [
{
"width": 435, "height": 2,
"data": {"values": [{}]},
"mark": {"type": "point", "opacity": 0, "size": 1},
"encoding": {
"x": {"datum": 0, "type": "quantitative", "scale": {"domain": [0, 1], "range": [-50.3, 434.7]},
"axis": {"orient": "top", "domainColor": "#6b1727", "domainWidth": 2, "domainCap": "butt", "ticks": false, "labels": false, "title": null, "grid": false}}
},
"title": {"text": "图表:2019 年国内地产新开工及销售增速面临下行压力", "frame": "group", "anchor": "start", "dx": -41.6, "offset": -4.5, "fontSize": 19, "fontStyle": "italic", "fontWeight": "normal", "font": "Noto Sans CJK SC", "color": "#4a4545"}
},
{
"width": 408, "height": 177,
"title": {"text": "房地产投资与销售增速", "font": "Noto Sans CJK SC", "fontSize": 15, "fontWeight": "bold", "color": "#111111", "anchor": "middle", "dx": -7, "offset": 2},
"layer": [
{
"data": {"name": "property"},
"transform": [{"filter": "datum.series === '商品房销售面积:住宅:累计同比'"}],
"mark": {"type": "line", "strokeWidth": 2.8},
"encoding": {
"x": {"field": "date", "type": "temporal",
"scale": {"domain": [{"year": 2004, "month": 11, "date": 1}, {"year": 2018, "month": 11, "date": 1}]},
"axis": {"title": null, "grid": false, "format": "%b/%y", "labelAngle": -90, "labelAlign": "left", "labelBaseline": "middle", "labelOverlap": false, "labelPadding": 105, "offset": -59, "tickSize": 4, "tickColor": "#888888", "domainColor": "#888888", "labelFontSize": 13, "labelColor": "#222222",
"values": [{"year":2004,"month":11,"date":1},{"year":2005,"month":7,"date":1},{"year":2006,"month":3,"date":1},{"year":2006,"month":11,"date":1},{"year":2007,"month":7,"date":1},{"year":2008,"month":3,"date":1},{"year":2008,"month":11,"date":1},{"year":2009,"month":7,"date":1},{"year":2010,"month":3,"date":1},{"year":2010,"month":11,"date":1},{"year":2011,"month":7,"date":1},{"year":2012,"month":3,"date":1},{"year":2012,"month":11,"date":1},{"year":2013,"month":7,"date":1},{"year":2014,"month":3,"date":1},{"year":2014,"month":11,"date":1},{"year":2015,"month":7,"date":1},{"year":2016,"month":3,"date":1},{"year":2016,"month":11,"date":1},{"year":2017,"month":7,"date":1},{"year":2018,"month":3,"date":1},{"year":2018,"month":11,"date":1}]}},
"y": {"field": "value", "type": "quantitative",
"scale": {"domain": [-40, 80], "nice": false},
"axis": {"values": [-40, -20, 0, 20, 40, 60, 80], "labelOverlap": false, "grid": false, "domain": false, "ticks": false, "labelPadding": 14, "labelFontSize": 13,
"labelExpr": "datum.value < 0 ? '(' + abs(datum.value) + ')' : datum.label",
"labelColor": {"condition": {"test": "datum.value < 0", "value": "#a8303f"}, "value": "#222222"},
"title": "（%）", "titleAngle": 0, "titleX": -12, "titleY": -22, "titleAlign": "center", "titleBaseline": "middle", "titleFont": "Noto Sans CJK SC", "titleFontSize": 13, "titleFontWeight": "normal", "titleColor": "#333333", "minExtent": 50}},
"color": {"field": "series", "type": "nominal",
"scale": {"domain": ["房屋新开工面积:住宅:累计同比", "商品房销售面积:住宅:累计同比"], "range": ["#8a4a17", "#f4c49b"]},
"legend": {"orient": "none", "legendX": 92, "legendY": -27, "title": null, "symbolType": "stroke", "symbolSize": 625, "symbolStrokeWidth": 3.5, "labelFont": "Noto Sans CJK SC", "labelFontSize": 13.5, "labelColor": "#333333", "rowPadding": 1, "labelOffset": 4, "labelLimit": 300, "padding": 0}}
}
},
{
"data": {"name": "property"},
"transform": [{"filter": "datum.series === '房屋新开工面积:住宅:累计同比'"}],
"mark": {"type": "line", "strokeWidth": 2.8},
"encoding": {
"x": {"field": "date", "type": "temporal", "scale": {"domain": [{"year": 2004, "month": 11, "date": 1}, {"year": 2018, "month": 11, "date": 1}]},
"axis": {"title": null, "grid": false, "format": "%b/%y", "labelAngle": -90, "labelAlign": "left", "labelBaseline": "middle", "labelOverlap": false, "labelPadding": 105, "offset": -59, "tickSize": 4, "tickColor": "#888888", "domainColor": "#888888", "labelFontSize": 13, "labelColor": "#222222",
"values": [{"year":2004,"month":11,"date":1},{"year":2005,"month":7,"date":1},{"year":2006,"month":3,"date":1},{"year":2006,"month":11,"date":1},{"year":2007,"month":7,"date":1},{"year":2008,"month":3,"date":1},{"year":2008,"month":11,"date":1},{"year":2009,"month":7,"date":1},{"year":2010,"month":3,"date":1},{"year":2010,"month":11,"date":1},{"year":2011,"month":7,"date":1},{"year":2012,"month":3,"date":1},{"year":2012,"month":11,"date":1},{"year":2013,"month":7,"date":1},{"year":2014,"month":3,"date":1},{"year":2014,"month":11,"date":1},{"year":2015,"month":7,"date":1},{"year":2016,"month":3,"date":1},{"year":2016,"month":11,"date":1},{"year":2017,"month":7,"date":1},{"year":2018,"month":3,"date":1},{"year":2018,"month":11,"date":1}]}},
"y": {"field": "value", "type": "quantitative", "scale": {"domain": [-40, 80], "nice": false},
"axis": {"values": [-40, -20, 0, 20, 40, 60, 80], "labelOverlap": false, "grid": false, "domain": false, "ticks": false, "labelPadding": 14, "labelFontSize": 13,
"labelExpr": "datum.value < 0 ? '(' + abs(datum.value) + ')' : datum.label",
"labelColor": {"condition": {"test": "datum.value < 0", "value": "#a8303f"}, "value": "#222222"},
"title": "（%）", "titleAngle": 0, "titleX": -12, "titleY": -22, "titleAlign": "center", "titleBaseline": "middle", "titleFont": "Noto Sans CJK SC", "titleFontSize": 13, "titleFontWeight": "normal", "titleColor": "#333333", "minExtent": 50}},
"color": {"field": "series", "type": "nominal", "scale": {"domain": ["房屋新开工面积:住宅:累计同比", "商品房销售面积:住宅:累计同比"], "range": ["#8a4a17", "#f4c49b"]},
"legend": {"orient": "none", "legendX": 92, "legendY": -27, "title": null, "symbolType": "stroke", "symbolSize": 625, "symbolStrokeWidth": 3.5, "labelFont": "Noto Sans CJK SC", "labelFontSize": 13.5, "labelColor": "#333333", "rowPadding": 1, "labelOffset": 4, "labelLimit": 300, "padding": 0}}
}
},
{
"data": {"values": [{}]},
"mark": {"type": "point", "shape": "M -0.63 0 A 0.63 1 0 1 0 0.63 0 A 0.63 1 0 1 0 -0.63 0 Z", "size": 5776, "filled": false, "color": "#d42c4a", "opacity": 1, "strokeWidth": 2.2, "strokeDash": [7, 5]},
"encoding": {
"x": {"datum": {"year": 2018, "month": 7, "date": 1}, "type": "temporal", "axis": {"title": null, "grid": false, "format": "%b/%y", "labelAngle": -90, "labelAlign": "left", "labelBaseline": "middle", "labelOverlap": false, "labelPadding": 105, "offset": -59, "tickSize": 4, "tickColor": "#888888", "domainColor": "#888888", "labelFontSize": 13, "labelColor": "#222222",
"values": [{"year":2004,"month":11,"date":1},{"year":2005,"month":7,"date":1},{"year":2006,"month":3,"date":1},{"year":2006,"month":11,"date":1},{"year":2007,"month":7,"date":1},{"year":2008,"month":3,"date":1},{"year":2008,"month":11,"date":1},{"year":2009,"month":7,"date":1},{"year":2010,"month":3,"date":1},{"year":2010,"month":11,"date":1},{"year":2011,"month":7,"date":1},{"year":2012,"month":3,"date":1},{"year":2012,"month":11,"date":1},{"year":2013,"month":7,"date":1},{"year":2014,"month":3,"date":1},{"year":2014,"month":11,"date":1},{"year":2015,"month":7,"date":1},{"year":2016,"month":3,"date":1},{"year":2016,"month":11,"date":1},{"year":2017,"month":7,"date":1},{"year":2018,"month":3,"date":1},{"year":2018,"month":11,"date":1}]}},
"y": {"datum": 9, "type": "quantitative", "axis": {"values": [-40, -20, 0, 20, 40, 60, 80], "labelOverlap": false, "grid": false, "domain": false, "ticks": false, "labelPadding": 14, "labelFontSize": 13,
"labelExpr": "datum.value < 0 ? '(' + abs(datum.value) + ')' : datum.label",
"labelColor": {"condition": {"test": "datum.value < 0", "value": "#a8303f"}, "value": "#222222"},
"title": "（%）", "titleAngle": 0, "titleX": -12, "titleY": -22, "titleAlign": "center", "titleBaseline": "middle", "titleFont": "Noto Sans CJK SC", "titleFontSize": 13, "titleFontWeight": "normal", "titleColor": "#333333", "minExtent": 50}}
}
},
{
"data": {"values": [{}]},
"mark": {"type": "rule", "color": "#d42c4a", "strokeWidth": 2.2, "strokeDash": [6, 4]},
"encoding": {
"x": {"datum": {"year": 2018, "month": 6, "date": 7}, "type": "temporal", "axis": {"title": null, "grid": false, "format": "%b/%y", "labelAngle": -90, "labelAlign": "left", "labelBaseline": "middle", "labelOverlap": false, "labelPadding": 105, "offset": -59, "tickSize": 4, "tickColor": "#888888", "domainColor": "#888888", "labelFontSize": 13, "labelColor": "#222222",
"values": [{"year":2004,"month":11,"date":1},{"year":2005,"month":7,"date":1},{"year":2006,"month":3,"date":1},{"year":2006,"month":11,"date":1},{"year":2007,"month":7,"date":1},{"year":2008,"month":3,"date":1},{"year":2008,"month":11,"date":1},{"year":2009,"month":7,"date":1},{"year":2010,"month":3,"date":1},{"year":2010,"month":11,"date":1},{"year":2011,"month":7,"date":1},{"year":2012,"month":3,"date":1},{"year":2012,"month":11,"date":1},{"year":2013,"month":7,"date":1},{"year":2014,"month":3,"date":1},{"year":2014,"month":11,"date":1},{"year":2015,"month":7,"date":1},{"year":2016,"month":3,"date":1},{"year":2016,"month":11,"date":1},{"year":2017,"month":7,"date":1},{"year":2018,"month":3,"date":1},{"year":2018,"month":11,"date":1}]}},
"x2": {"datum": {"year": 2019, "month": 8, "date": 28}},
"y": {"datum": 55.7, "type": "quantitative", "axis": {"values": [-40, -20, 0, 20, 40, 60, 80], "labelOverlap": false, "grid": false, "domain": false, "ticks": false, "labelPadding": 14, "labelFontSize": 13,
"labelExpr": "datum.value < 0 ? '(' + abs(datum.value) + ')' : datum.label",
"labelColor": {"condition": {"test": "datum.value < 0", "value": "#a8303f"}, "value": "#222222"},
"title": "（%）", "titleAngle": 0, "titleX": -12, "titleY": -22, "titleAlign": "center", "titleBaseline": "middle", "titleFont": "Noto Sans CJK SC", "titleFontSize": 13, "titleFontWeight": "normal", "titleColor": "#333333", "minExtent": 50}},
"y2": {"datum": 28.6}
}
},
{
"data": {"values": [{}]},
"mark": {"type": "point", "shape": "M -1 -0.9 L 0 0 L -1 0.9", "size": 180, "angle": 48, "filled": false, "color": "#d42c4a", "opacity": 1, "strokeWidth": 2.2},
"encoding": {
"x": {"datum": {"year": 2019, "month": 8, "date": 28}, "type": "temporal", "axis": {"title": null, "grid": false, "format": "%b/%y", "labelAngle": -90, "labelAlign": "left", "labelBaseline": "middle", "labelOverlap": false, "labelPadding": 105, "offset": -59, "tickSize": 4, "tickColor": "#888888", "domainColor": "#888888", "labelFontSize": 13, "labelColor": "#222222",
"values": [{"year":2004,"month":11,"date":1},{"year":2005,"month":7,"date":1},{"year":2006,"month":3,"date":1},{"year":2006,"month":11,"date":1},{"year":2007,"month":7,"date":1},{"year":2008,"month":3,"date":1},{"year":2008,"month":11,"date":1},{"year":2009,"month":7,"date":1},{"year":2010,"month":3,"date":1},{"year":2010,"month":11,"date":1},{"year":2011,"month":7,"date":1},{"year":2012,"month":3,"date":1},{"year":2012,"month":11,"date":1},{"year":2013,"month":7,"date":1},{"year":2014,"month":3,"date":1},{"year":2014,"month":11,"date":1},{"year":2015,"month":7,"date":1},{"year":2016,"month":3,"date":1},{"year":2016,"month":11,"date":1},{"year":2017,"month":7,"date":1},{"year":2018,"month":3,"date":1},{"year":2018,"month":11,"date":1}]}},
"y": {"datum": 28.6, "type": "quantitative", "axis": {"values": [-40, -20, 0, 20, 40, 60, 80], "labelOverlap": false, "grid": false, "domain": false, "ticks": false, "labelPadding": 14, "labelFontSize": 13,
"labelExpr": "datum.value < 0 ? '(' + abs(datum.value) + ')' : datum.label",
"labelColor": {"condition": {"test": "datum.value < 0", "value": "#a8303f"}, "value": "#222222"},
"title": "（%）", "titleAngle": 0, "titleX": -12, "titleY": -22, "titleAlign": "center", "titleBaseline": "middle", "titleFont": "Noto Sans CJK SC", "titleFontSize": 13, "titleFontWeight": "normal", "titleColor": "#333333", "minExtent": 50}}
}
}
]
}
]
},
{
"width": 435, "height": 1,
"data": {"values": [{}]},
"mark": {"type": "point", "opacity": 0, "size": 1},
"encoding": {
"x": {"datum": 0, "type": "quantitative", "scale": {"domain": [0, 1], "range": [-50.3, 434.7]},
"axis": {"orient": "top", "domainColor": "#6b1727", "domainWidth": 2, "domainCap": "butt", "ticks": false, "labels": false, "title": null, "grid": false}}
},
"title": {"text": "资料来源：万得资讯，中金公司研究部", "orient": "bottom", "frame": "group", "anchor": "start", "dx": -43.3, "offset": 6.5, "fontSize": 13, "fontStyle": "italic", "fontWeight": "normal", "font": "Noto Sans CJK SC", "color": "#555555"}
}
]
}
],
"config": {
"view": {"stroke": null},
"font": "Liberation Sans",
"axis": {"labelFont": "Liberation Sans", "grid": false, "labelOverlap": false},
"legend": {"labelFont": "Noto Sans CJK SC", "padding": 0}
}
}
